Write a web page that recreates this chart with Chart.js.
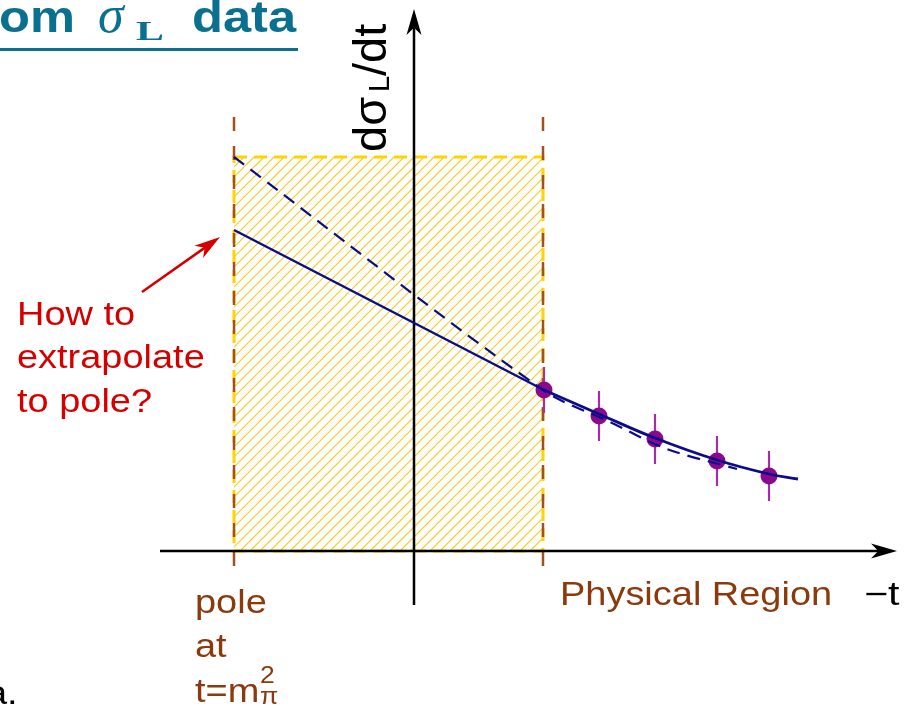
<!DOCTYPE html>
<html>
<head>
<meta charset="utf-8">
<script src="https://cdn.jsdelivr.net/npm/chart.js@4.4.0/dist/chart.umd.min.js"></script>
<style>
  html, body { margin: 0; padding: 0; background: #fff; overflow: hidden; }
  canvas { display: block; }
</style>
</head>
<body>
<canvas id="chart" width="917" height="709"></canvas>
<script>
// x = -t (arbitrary units), y = dsigma_L/dt (arbitrary units)
const poleT = -1.80;
const physicalEdge = 1.29;
const hatchTop = 3.94;

const dataX = [1.30, 1.85, 2.41, 3.03, 3.55];
const dataY = [1.61, 1.35, 1.12, 0.90, 0.75];
const dataErr = [0.23, 0.25, 0.25, 0.25, 0.25];

const lineX = [-1.80, 1.30];
const lineY = [3.21, 1.61];
const curveX = [1.30, 1.85, 2.41, 3.03, 3.55, 3.84];
const curveY = [1.61, 1.37, 1.13, 0.91, 0.77, 0.72];
const dashX = [-1.80, 1.29, 1.96, 2.53, 3.23];
const dashY = [3.94, 1.61, 1.29, 1.02, 0.82];

const xAxisRange = [-2.54, 4.83];
const yAxisRange = [-0.54, 5.42];
const brownRange = [-0.29, 4.34];
const redArrowFrom = [-2.72, 2.59];
const redArrowTo = [-1.94, 3.14];

const NAVY = "#0c0c8a";
const PURPLE = "#8b0a8b";
const BROWN = "#a4501c";
const TEXT_BROWN = "#8a3a0c";
const RED = "#d40000";
const TEAL = "#0a7090";
const SANS = '"Liberation Sans", Arial, sans-serif';

const xy = (xs, ys) => xs.map((x, i) => ({ x: x, y: ys[i] }));

function arrowHead(ctx, x1, y1, x2, y2, len, half, color) {
    const a = Math.atan2(y2 - y1, x2 - x1);
    const c = Math.cos(a), s = Math.sin(a);
    ctx.save();
    ctx.fillStyle = color;
    ctx.beginPath();
    ctx.moveTo(x2, y2);
    ctx.lineTo(x2 - len * c + half * s, y2 - len * s - half * c);
    ctx.lineTo(x2 - len * 0.72 * c, y2 - len * 0.72 * s);
    ctx.lineTo(x2 - len * c - half * s, y2 - len * s + half * c);
    ctx.closePath();
    ctx.fill();
    ctx.restore();
}

function txt(ctx, s, x, y, font, color, sx) {
    ctx.save();
    ctx.font = font;
    ctx.fillStyle = color;
    ctx.textBaseline = "alphabetic";
    ctx.translate(x, y);
    ctx.scale(sx || 1, 1);
    ctx.fillText(s, 0, 0);
    ctx.restore();
}

const background = {
    id: "background",
    beforeDatasetsDraw(chart) {
        const ctx = chart.ctx;
        const X = v => chart.scales.x.getPixelForValue(v);
        const Y = v => chart.scales.y.getPixelForValue(v);
        const l = X(poleT), r = X(physicalEdge), t = Y(hatchTop), b = Y(0);

        // hatched region
        ctx.save();
        ctx.beginPath();
        ctx.rect(l, t, r - l, b - t);
        ctx.clip();
        ctx.strokeStyle = "#f2cc1c";
        ctx.lineWidth = 1.1;
        const h = b - t;
        for (let k = l - h; k < r + 10; k += 10) {
            ctx.beginPath();
            ctx.moveTo(k, b);
            ctx.lineTo(k + h, t);
            ctx.stroke();
        }
        ctx.restore();

        // yellow dashed border
        ctx.save();
        ctx.strokeStyle = "#ffd400";
        ctx.lineWidth = 3;
        ctx.setLineDash([13, 7]);
        ctx.strokeRect(l, t, r - l, b - t);
        ctx.restore();

        // brown dashed verticals
        ctx.save();
        ctx.strokeStyle = BROWN;
        ctx.lineWidth = 2.5;
        ctx.setLineDash([14, 15]);
        [poleT, physicalEdge].forEach(v => {
            ctx.beginPath();
            ctx.moveTo(X(v), Y(brownRange[1]));
            ctx.lineTo(X(v), Y(brownRange[0]));
            ctx.stroke();
        });
        ctx.restore();

        // axes
        ctx.save();
        ctx.strokeStyle = "#000";
        ctx.lineWidth = 2.5;
        ctx.beginPath();
        ctx.moveTo(X(xAxisRange[0]), Y(0));
        ctx.lineTo(X(xAxisRange[1]) - 10, Y(0));
        ctx.moveTo(X(0), Y(yAxisRange[0]));
        ctx.lineTo(X(0), Y(yAxisRange[1]) + 10);
        ctx.stroke();
        ctx.restore();
        arrowHead(ctx, X(xAxisRange[0]), Y(0), X(xAxisRange[1]), Y(0), 26, 7.5, "#000");
        arrowHead(ctx, X(0), Y(yAxisRange[0]), X(0), Y(yAxisRange[1]), 26, 7.5, "#000");

        // error bars
        ctx.save();
        ctx.strokeStyle = "#a030a8";
        ctx.lineWidth = 2.2;
        dataX.forEach((x, i) => {
            ctx.beginPath();
            ctx.moveTo(X(x), Y(dataY[i] + dataErr[i]));
            ctx.lineTo(X(x), Y(dataY[i] - dataErr[i]));
            ctx.stroke();
        });
        ctx.restore();
    },
    afterDraw(chart) {
        const ctx = chart.ctx;
        const X = v => chart.scales.x.getPixelForValue(v);
        const Y = v => chart.scales.y.getPixelForValue(v);
        const sx = 1.15;
        const f = 'bold 44px ' + SANS;

        // title (cut at left edge)
        ctx.save();
        ctx.font = f;
        const wFr = ctx.measureText("fr").width * sx;
        ctx.restore();
        txt(ctx, "from", -1 - wFr, 32, f, TEAL, sx);
        txt(ctx, "\u03c3", 98, 32, 'italic 52px "Liberation Serif", serif', TEAL, 1);
        txt(ctx, "L", 136, 40, 'bold 27px "Liberation Serif", serif', TEAL, 1.55);
        txt(ctx, "data", 192, 32, f, TEAL, sx);
        ctx.save();
        ctx.fillStyle = TEAL;
        ctx.fillRect(0, 48, 298, 3);
        ctx.restore();

        // y label
        ctx.save();
        ctx.translate(386, 152);
        ctx.rotate(-Math.PI / 2);
        ctx.fillStyle = "#000";
        ctx.font = "47px " + SANS;
        ctx.fillText("d\u03c3", 0, 0);
        ctx.font = "29px " + SANS;
        ctx.fillText("L", 60, 3);
        ctx.font = "47px " + SANS;
        ctx.fillText("/dt", 76, 0);
        ctx.restore();

        const lf = "33px " + SANS;
        txt(ctx, "How to", 17, 325, lf, RED, sx);
        txt(ctx, "extrapolate", 17, 368, lf, RED, sx);
        txt(ctx, "to pole?", 17, 412, lf, RED, sx);

        txt(ctx, "pole", 195, 613, lf, TEXT_BROWN, sx);
        txt(ctx, "at", 195, 657, lf, TEXT_BROWN, sx);
        txt(ctx, "t=m", 195, 702, lf, TEXT_BROWN, sx);
        txt(ctx, "2", 260, 683, "23px " + SANS, TEXT_BROWN, sx);
        txt(ctx, "\u03c0", 260, 704, "23px " + SANS, TEXT_BROWN, sx);

        txt(ctx, "Physical Region", 560, 605, lf, TEXT_BROWN, sx);
        txt(ctx, "\u2212t", 864, 605, lf, "#000", 1.25);
        txt(ctx, "a.", -14, 704, lf, "#000", sx);

        // red arrow
        const ax1 = X(redArrowFrom[0]), ay1 = Y(redArrowFrom[1]);
        const ax2 = X(redArrowTo[0]), ay2 = Y(redArrowTo[1]);
        ctx.save();
        ctx.strokeStyle = RED;
        ctx.lineWidth = 2.5;
        ctx.beginPath();
        ctx.moveTo(ax1, ay1);
        const a = Math.atan2(ay2 - ay1, ax2 - ax1);
        ctx.lineTo(ax2 - 18 * Math.cos(a), ay2 - 18 * Math.sin(a));
        ctx.stroke();
        ctx.restore();
        arrowHead(ctx, ax1, ay1, ax2, ay2, 26, 7.5, RED);
    }
};

new Chart(document.getElementById("chart"), {
    type: "scatter",
    data: {
        datasets: [
            {
                type: "line",
                data: xy(dashX, dashY),
                borderColor: NAVY,
                borderWidth: 2.2,
                borderDash: [13, 8],
                pointRadius: 0,
                tension: 0.3,
                fill: false
            },
            {
                type: "line",
                data: xy(lineX, lineY),
                borderColor: NAVY,
                borderWidth: 2.5,
                pointRadius: 0,
                fill: false
            },
            {
                type: "line",
                data: xy(curveX, curveY),
                borderColor: NAVY,
                borderWidth: 2.8,
                pointRadius: 0,
                tension: 0.4,
                fill: false
            },
            {
                data: xy(dataX, dataY),
                backgroundColor: PURPLE,
                borderWidth: 0,
                pointRadius: 8.5
            }
        ]
    },
    options: {
        responsive: false,
        animation: false,
        devicePixelRatio: 1,
        layout: { padding: 0, autoPadding: false },
        plugins: { legend: { display: false }, tooltip: { enabled: false } },
        scales: {
            x: { type: "linear", display: false, min: -4.14, max: 5.03 },
            y: { type: "linear", display: false, min: -1.58, max: 5.51 }
        }
    },
    plugins: [background]
});
</script>
</body>
</html>
